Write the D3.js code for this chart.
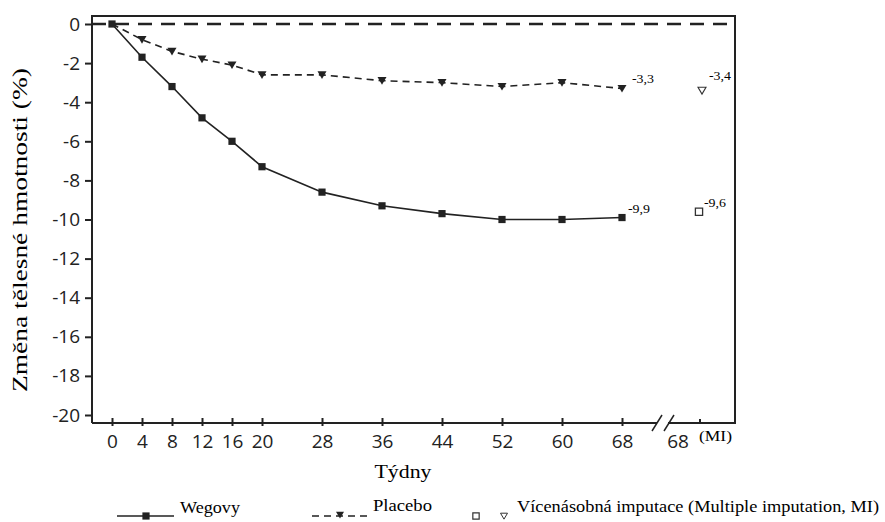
<!DOCTYPE html>
<html>
<head>
<meta charset="utf-8">
<script src="https://cdn.jsdelivr.net/npm/d3@7"></script>
<style>
  body { margin: 0; background: #fff; }
  svg .tick text { font-size: 19px !important; font-family: "Open Sans", "DejaVu Sans", sans-serif !important; }
</style>
</head>
<body>
<script>
// chart data
var weeks = [0, 4, 8, 12, 16, 20, 28, 36, 44, 52, 60, 68];
var wegovy = [0, -1.7, -3.2, -4.8, -6.0, -7.3, -8.6, -9.3, -9.7, -10.0, -10.0, -9.9];
var placebo = [0, -0.8, -1.4, -1.8, -2.1, -2.6, -2.6, -2.9, -3.0, -3.2, -3.0, -3.3];
var miWegovy = -9.6, miPlacebo = -3.4;
var endLabels = ["-9,9", "-3,3"];
var miLabels = ["-9,6", "-3,4"];
var yTicks = [0, -2, -4, -6, -8, -10, -12, -14, -16, -18, -20];

var w = 885, h = 522;
var frameL = 92, frameR = 735, frameT = 16, frameB = 423;
var serif = "Liberation Serif, Times New Roman, DejaVu Serif, serif";
var sans = "Open Sans, DejaVu Sans, sans-serif";

var svg = d3.select("body").append("svg")
  .attr("width", w)
  .attr("height", h);

// scales
var x = d3.scaleLinear().domain([0, 68]).range([112, 622]);
var xMI = 700; // position of the imputed 68 week column
var y = d3.scaleLinear().domain([0, -20]).range([24, 415]);

// frame (left, top, right)
svg.append("path")
  .attr("d", "M" + frameL + "," + frameB + "V" + frameT + "H" + frameR + "V" + frameB)
  .attr("fill", "none").attr("stroke", "#222").attr("stroke-width", 2);

// bottom line with a break
svg.append("line").attr("x1", frameL).attr("x2", 657).attr("y1", frameB).attr("y2", frameB)
  .attr("stroke", "#222").attr("stroke-width", 2);
svg.append("line").attr("x1", 668).attr("x2", frameR + 1).attr("y1", frameB).attr("y2", frameB)
  .attr("stroke", "#222").attr("stroke-width", 2);
[652, 664].forEach(function(bx){
  svg.append("line").attr("x1", bx).attr("y1", frameB + 8).attr("x2", bx + 10).attr("y2", frameB - 8)
    .attr("stroke", "#222").attr("stroke-width", 1.5);
});

// y axis
var yAxis = d3.axisLeft(y).tickValues(yTicks).tickSize(7).tickSizeOuter(0).tickPadding(5)
  .tickFormat(function(d){ return String(d); });
var gy = svg.append("g").attr("transform", "translate(" + frameL + ",0)")
  .attr("font-size", 19).call(yAxis);
gy.select(".domain").remove();
gy.selectAll(".tick line").attr("stroke", "#222").attr("stroke-width", 2);
gy.selectAll(".tick text").attr("fill", "#222");

// x axis
var xAxis = d3.axisBottom(x).tickValues(weeks).tickSize(7).tickSizeOuter(0).tickPadding(5);
var gx = svg.append("g").attr("transform", "translate(0," + frameB + ")").call(xAxis);
gx.select(".domain").remove();
gx.selectAll(".tick line").attr("stroke", "#222").attr("stroke-width", 2).attr("y1", -5).attr("y2", 3);
gx.selectAll(".tick text").attr("dy", "0.7em").attr("fill", "#222");

// MI column tick and label
svg.append("line").attr("x1", xMI).attr("x2", xMI).attr("y1", frameB - 4).attr("y2", frameB)
  .attr("stroke", "#222").attr("stroke-width", 2);
svg.append("g").attr("class", "tick").append("text").attr("x", 678).attr("y", 448)
  .attr("text-anchor", "middle").attr("fill", "#222")
  .text("68");
svg.append("text").attr("x", 699).attr("y", 441)
  .attr("font-family", serif).attr("font-size", 15)
  .attr("textLength", 33).attr("lengthAdjust", "spacingAndGlyphs")
  .text("(MI)");

// zero reference line
svg.append("line").attr("x1", frameL).attr("x2", frameR).attr("y1", y(0)).attr("y2", y(0))
  .attr("stroke", "#222").attr("stroke-width", 2.5).attr("stroke-dasharray", "14,9");

// lines
var line = d3.line()
  .x(function(d){ return x(d[0]); })
  .y(function(d){ return y(d[1]); });

svg.append("path").datum(d3.zip(weeks, placebo))
  .attr("d", line).attr("fill", "none").attr("stroke", "#222")
  .attr("stroke-width", 1.6).attr("stroke-dasharray", "7,5");
svg.append("path").datum(d3.zip(weeks, wegovy))
  .attr("d", line).attr("fill", "none").attr("stroke", "#222").attr("stroke-width", 1.6);

var sq = d3.symbol().type(d3.symbolSquare).size(52);
var tri = function(s){
  return "M" + (-s) + "," + (-s * 0.8) + "L" + s + "," + (-s * 0.8) + "L0," + (s * 0.9) + "Z";
};

svg.selectAll(".pmark").data(d3.zip(weeks, placebo).slice(1)).enter()
  .append("path").attr("class", "pmark")
  .attr("transform", function(d){ return "translate(" + x(d[0]) + "," + y(d[1]) + ")"; })
  .attr("d", tri(4.5)).attr("fill", "#222");

svg.selectAll(".wmark").data(d3.zip(weeks, wegovy)).enter()
  .append("path").attr("class", "wmark")
  .attr("transform", function(d){ return "translate(" + x(d[0]) + "," + y(d[1]) + ")"; })
  .attr("d", sq).attr("fill", "#222");

// MI markers (open)
svg.append("path").attr("transform", "translate(" + (xMI - 1) + "," + y(miWegovy) + ")")
  .attr("d", sq).attr("fill", "#fff").attr("stroke", "#333").attr("stroke-width", 1.3);
svg.append("path").attr("transform", "translate(" + (xMI + 2) + "," + y(miPlacebo) + ")")
  .attr("d", tri(4)).attr("fill", "#fff").attr("stroke", "#333").attr("stroke-width", 1.1);

// value labels
var lastW = wegovy[wegovy.length - 1], lastP = placebo[placebo.length - 1];
function valueLabel(px, py, txt){
  svg.append("text").attr("x", px).attr("y", py)
    .attr("font-family", serif).attr("font-size", 13)
    .attr("textLength", 22).attr("lengthAdjust", "spacingAndGlyphs")
    .text(txt);
}
valueLabel(x(68) + 6, y(lastW) - 4.5, endLabels[0]);
valueLabel(x(68) + 10, y(lastP) - 5.5, endLabels[1]);
valueLabel(xMI + 4, y(miWegovy) - 5, miLabels[0]);
valueLabel(xMI + 9, y(miPlacebo) - 10.5, miLabels[1]);

// axis titles
svg.append("text")
  .attr("transform", "translate(27,230) rotate(-90)")
  .attr("text-anchor", "middle").attr("font-family", serif).attr("font-size", 21)
  .attr("textLength", 324).attr("lengthAdjust", "spacingAndGlyphs")
  .text("Změna tělesné hmotnosti (%)");
svg.append("text")
  .attr("x", 403).attr("y", 478).attr("text-anchor", "middle")
  .attr("font-family", serif).attr("font-size", 19)
  .attr("textLength", 57).attr("lengthAdjust", "spacingAndGlyphs")
  .text("Týdny");

// legend
var lg = svg.append("g").attr("class", "legend");
lg.append("line").attr("x1", 117).attr("x2", 174).attr("y1", 516).attr("y2", 516)
  .attr("stroke", "#222").attr("stroke-width", 1.6);
lg.append("path").attr("transform", "translate(146,516)").attr("d", sq).attr("fill", "#222");
lg.append("text").attr("x", 180).attr("y", 513)
  .attr("font-family", serif).attr("font-size", 16)
  .attr("textLength", 60).attr("lengthAdjust", "spacingAndGlyphs")
  .text("Wegovy");

lg.append("line").attr("x1", 312).attr("x2", 368).attr("y1", 516).attr("y2", 516)
  .attr("stroke", "#222").attr("stroke-width", 1.6).attr("stroke-dasharray", "7,5");
lg.append("path").attr("transform", "translate(340,515)").attr("d", tri(4)).attr("fill", "#222");
lg.append("text").attr("x", 373).attr("y", 511)
  .attr("font-family", serif).attr("font-size", 16)
  .attr("textLength", 59).attr("lengthAdjust", "spacingAndGlyphs")
  .text("Placebo");

lg.append("path").attr("transform", "translate(476,516)")
  .attr("d", d3.symbol().type(d3.symbolSquare).size(40)).attr("fill", "#fff").attr("stroke", "#333").attr("stroke-width", 1.2);
lg.append("path").attr("transform", "translate(504,516)")
  .attr("d", tri(3.5)).attr("fill", "#fff").attr("stroke", "#333").attr("stroke-width", 1);
lg.append("text").attr("x", 517).attr("y", 512)
  .attr("font-family", serif).attr("font-size", 17)
  .attr("textLength", 362).attr("lengthAdjust", "spacingAndGlyphs")
  .text("Vícenásobná imputace (Multiple imputation, MI)");
</script>
</body>
</html>
